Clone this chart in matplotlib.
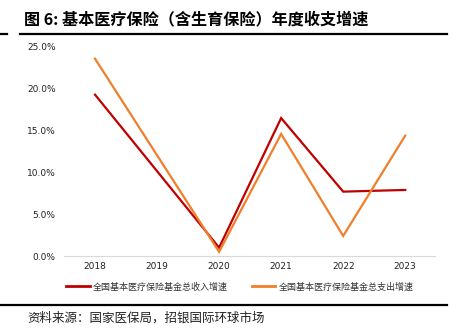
import numpy as np
import matplotlib as mpl
mpl.use('Agg')
import matplotlib.pyplot as plt
from matplotlib.lines import Line2D

plt.rcParams['font.family'] = ['Noto Sans CJK SC', 'DejaVu Sans']

years = ['2018', '2019', '2020', '2021', '2022', '2023']
income = [19.3, np.nan, 1.0, 16.5, 7.7, 7.9]
expense = [23.6, np.nan, 0.5, 14.6, 2.4, 14.4]
income_label = '全国基本医疗保险基金总收入增速'
expense_label = '全国基本医疗保险基金总支出增速'

red = '#c00000'
orange = '#f07f2c'

fig = plt.figure(figsize=(4.54, 3.36), dpi=100)
W, H = 454, 336
ax = fig.add_axes([64 / W, 1 - 256 / H, (435 - 64) / W, (256 - 47) / H])

x = np.arange(len(years))
# 2019 has no point, connect 2018 -> 2020 directly
m = ~np.isnan(income)
ax.plot(x[m], np.array(income)[m], color=red, lw=1.6, solid_joinstyle='miter')
m2 = ~np.isnan(expense)
ax.plot(x[m2], np.array(expense)[m2], color=orange, lw=1.6, solid_joinstyle='miter')

ax.set_xlim(-0.5, 5.48)
ax.set_ylim(0, 25)
ax.set_yticks(np.arange(0, 26, 5))
ax.set_yticklabels(['%.1f%%' % v for v in np.arange(0, 26, 5)])
ax.set_xticks(x)
ax.set_xticklabels(years)
ax.tick_params(axis='both', length=0, labelsize=6.5, colors='#222222', pad=4)
ax.tick_params(axis='y', pad=6)
for s in ['top', 'right', 'left']:
    ax.spines[s].set_visible(False)
ax.spines['bottom'].set_color('#d9d9d9')
ax.spines['bottom'].set_linewidth(0.8)
for lab in ax.get_yticklabels():
    lab.set_family(['DejaVu Sans'])
for lab in ax.get_xticklabels():
    lab.set_family(['DejaVu Sans'])

# legend
handles = [Line2D([], [], color=red, lw=2), Line2D([], [], color=orange, lw=2)]
fig.legend(handles, [income_label, expense_label], loc='center left',
           bbox_to_anchor=(58 / W, 1 - 287 / H), ncol=2, frameon=False,
           fontsize=6.5, handlelength=2.6, handletextpad=0.4, columnspacing=2.6,
           labelcolor='#333333')

# title and rules
fig.text(24 / W, 1 - 19 / H, '图 6: 基本医疗保险（含生育保险）年度收支增速',
         fontsize=11.6, fontweight='bold', va='center', ha='left')
fig.add_artist(Line2D([20 / W, 447 / W], [1 - 34 / H] * 2, color='black', lw=1.6))
fig.add_artist(Line2D([0, 7 / W], [1 - 34 / H] * 2, color='black', lw=1.6))
fig.add_artist(Line2D([0, 447 / W], [1 - 305 / H] * 2, color='black', lw=1.6))
fig.text(27 / W, 1 - 318 / H, '资料来源：国家医保局，招银国际环球市场',
         fontsize=9, va='center', ha='left', color='#222222')

fig.savefig('out.png', dpi=100)
